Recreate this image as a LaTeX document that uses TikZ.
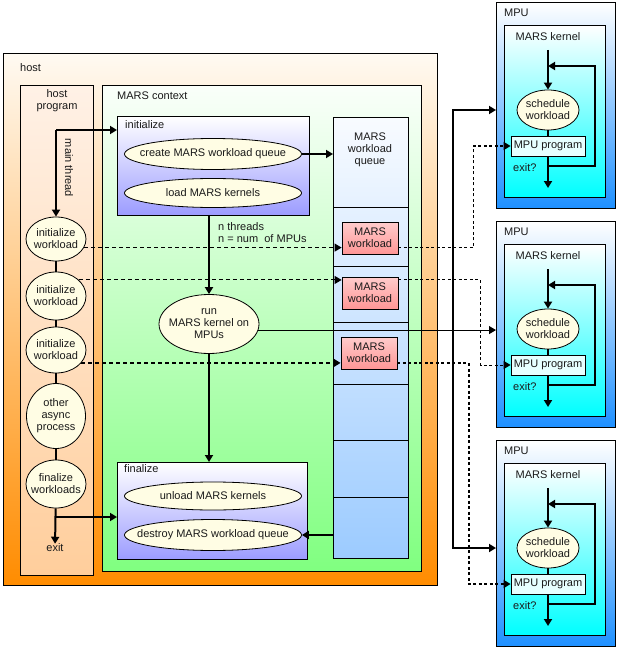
\documentclass[tikz,border=0pt]{standalone}
\usepackage{fontspec}
\setmainfont{Liberation Sans}
\usepackage{tikz}
\usetikzlibrary{shapes.geometric, arrows.meta, positioning, calc}

\definecolor{hosttop}{HTML}{FFFAF2}
\definecolor{hostbot}{HTML}{FF8C00}
\definecolor{progtop}{HTML}{FFF1E6}
\definecolor{progbot}{HTML}{FFCE9C}
\definecolor{ctxtop}{HTML}{FAFFFA}
\definecolor{ctxbot}{HTML}{80FF80}
\definecolor{stagebot}{HTML}{9C9CFF}
\definecolor{taskfill}{HTML}{FFFDE4}
\definecolor{queuetop}{HTML}{F8FBFF}
\definecolor{queuebot}{HTML}{9CCBFF}
\definecolor{jobtop}{HTML}{FFCCCC}
\definecolor{jobbot}{HTML}{FF9696}
\definecolor{mpubot}{HTML}{1E90FF}
\definecolor{kernbot}{HTML}{00FFFF}
\definecolor{progfill}{HTML}{E6FFFF}
\definecolor{ink}{HTML}{1A1A1A}

\begin{document}
\begin{tikzpicture}[x=1pt, y=-1pt, font=\fontsize{11}{12}\selectfont, text=ink,
    area/.style={rectangle, draw=black, line width=0.8pt, inner sep=0pt, anchor=north west},
    hostarea/.style={area, top color=hosttop, bottom color=hostbot},
    progarea/.style={area, top color=progtop, bottom color=progbot},
    ctxarea/.style={area, top color=ctxtop, bottom color=ctxbot},
    stage/.style={area, top color=white, bottom color=stagebot},
    queuecol/.style={area, top color=queuetop, bottom color=queuebot},
    mpuarea/.style={area, top color=white, bottom color=mpubot},
    kernarea/.style={area, top color=white, bottom color=kernbot},
    task/.style={ellipse, draw=black, line width=0.8pt, fill=taskfill, align=center, inner xsep=-15pt, inner ysep=0pt},
    job/.style={rectangle, draw=black, line width=0.8pt, top color=jobtop, bottom color=jobbot, align=center, minimum width=56pt, minimum height=32pt, inner sep=0pt},
    prog/.style={rectangle, draw=black, line width=0.8pt, fill=progfill, minimum width=74pt, minimum height=20pt, inner sep=0pt},
    tag/.style={inner sep=0pt, align=center},
    line/.style={draw, line width=2pt, -{Triangle[length=7pt, width=8pt]}},
    thinline/.style={draw, line width=1pt, -{Triangle[length=7pt, width=8pt]}},
    link/.style={draw, line width=2pt},
    async/.style={draw, line width=1pt, dash pattern=on 4pt off 3pt, -{Triangle[length=7pt, width=8pt]}},
    relay/.style={draw, line width=1.5pt, dash pattern=on 3pt off 2.5pt, -{Triangle[length=7pt, width=8pt]}}
]
    \useasboundingbox (0,0) rectangle (620,650);

    \node [hostarea, minimum width=434pt, minimum height=532pt] (host) at (3,53) {};
    \node [tag, anchor=west] at (20,68) {host};
    \node [progarea, minimum width=73pt, minimum height=490pt] (hprog) at (20,85) {};
    \node [tag] at (57,101) {host\\program};
    \node [ctxarea, minimum width=319pt, minimum height=486pt] (ctx) at (102,85) {};
    \node [tag, anchor=west] at (117,96) {MARS context};

    \node [stage, minimum width=192pt, minimum height=99pt] (init) at (117,116) {};
    \node [tag, anchor=west] at (125,125) {initialize};
    \node [task, minimum width=177pt, minimum height=31pt] (create) at (213,154) {create MARS workload queue};
    \node [task, below of=create, node distance=39pt, minimum width=177pt, minimum height=29pt] (load) {load MARS kernels};

    \node [stage, minimum width=190pt, minimum height=97pt] (fin) at (117,462) {};
    \node [tag, anchor=west] at (124,469) {finalize};
    \node [task, minimum width=177pt, minimum height=28pt] (unload) at (213,496) {unload MARS kernels};
    \node [task, below of=unload, node distance=39pt, minimum width=177pt, minimum height=31pt] (destroy) {destroy MARS workload queue};

    \node [queuecol, minimum width=75pt, minimum height=441pt] (queue) at (333,117) {};
    \node [tag] at (370,150) {MARS\\workload\\queue};
    \foreach \y in {207,266,322,384,440,497}
        \draw [line width=0.8pt] (queue.west |- 0,\y) -- (queue.east |- 0,\y);
    \node [job] (wl1) at (370,238) {MARS\\workload};
    \node [job] (wl2) at (370,293) {MARS\\workload};
    \node [job] (wl3) at (369,353) {MARS\\workload};

    \node [task, minimum width=100pt, minimum height=59pt] (run) at (209,324) {run\\MARS kernel on\\MPUs};
    \node [tag, anchor=west, align=left] at (218,233) {n threads\\n = num\ \ of MPUs};

    \coordinate (mt) at (56,130);
    \node [tag, rotate=-90] at (69,168) {main thread};
    \node [task, minimum width=60pt, minimum height=44pt] (iw1) at (56,239) {initialize\\workload};
    \node [task, below of=iw1, node distance=57pt, minimum width=60pt, minimum height=48pt] (iw2) {initialize\\workload};
    \node [task, below of=iw2, node distance=54pt, minimum width=60pt, minimum height=46pt] (iw3) {initialize\\workload};
    \node [task, below of=iw3, node distance=66pt, minimum width=59pt, minimum height=65pt] (async) {other\\async\\process};
    \node [task, below of=async, node distance=68pt, minimum width=60pt, minimum height=48pt] (finwl) {finalize\\workloads};
    \coordinate (ft) at (56,517);
    \node [tag] (exit) at (55,548) {exit};

    \foreach \o/\n in {0/1, 219/2, 438/3} {
        \node [mpuarea, minimum width=119pt, minimum height=206pt] (mpu\n) at (496,2+\o) {};
        \node [tag, anchor=west] at (504,13+\o) {MPU};
        \node [kernarea, minimum width=101pt, minimum height=172pt] (kern\n) at (504,25+\o) {};
        \node [tag] at (548,37+\o) {MARS kernel};
        \node [task, minimum width=62pt, minimum height=40pt] (sched\n) at (548,110+\o) {schedule\\workload};
        \node [prog] (prog\n) at (548,146+\o) {MPU program};
        \node [tag, anchor=west] at (513,168+\o) {exit?};
        \coordinate (kin\n) at (548,50+\o);
        \coordinate (kout\n) at (548,188+\o);
        \coordinate (ltop\n) at (595,66+\o);
        \coordinate (lbot\n) at (595,166+\o);
        \path [line] (kin\n) -- (sched\n);
        \path [link] (sched\n) -- (prog\n);
        \path [line] (prog\n) -- (kout\n);
        \path [line] (prog\n.south |- lbot\n) -- (lbot\n) -- (ltop\n) -- (ltop\n -| sched\n.north);
    }

    \path [line] (mt) -- (iw1);
    \path [line] (mt) -- (mt -| init.west);
    \foreach \a/\b in {iw1/iw2, iw2/iw3, iw3/async, async/finwl}
        \path [link] (\a) -- (\b);
    \path [line] (finwl) -- (exit);
    \path [line] (ft) -- (ft -| fin.west);

    \path [line] (create) -- (create -| queue.west);
    \path [line] (destroy -| queue.west) -- (destroy);
    \path [line] (run |- init.south) -- (run);
    \path [line] (run) -- (run |- fin.north);

    \path [async] (iw1.343) -- (iw1.343 -| wl1.west);
    \path [async] (iw2.35) -- (iw2.35 -| wl2.west);
    \path [async, line width=2pt] (iw3.333) -- (iw3.333 -| wl3.west);
    \path [relay] (iw1.343 -| wl1.east) -| ([xshift=-37pt]prog1.west) -- (prog1);
    \path [relay, line width=1pt] (iw2.35 -| wl2.east) -| ([xshift=-30pt]prog2.west) -- (prog2);
    \path [relay, line width=2pt] (iw3.333 -| wl3.east) -| ([xshift=-42pt]prog3.west) -- (prog3);

    \coordinate (fork) at (run.353 -| 453,0);
    \path [thinline] (run.353) -- (run.353 -| mpu2.west);
    \path [line] (fork) |- (sched1 -| mpu1.west);
    \path [line] (fork) |- (sched3 -| mpu3.west);
\end{tikzpicture}
\end{document}
